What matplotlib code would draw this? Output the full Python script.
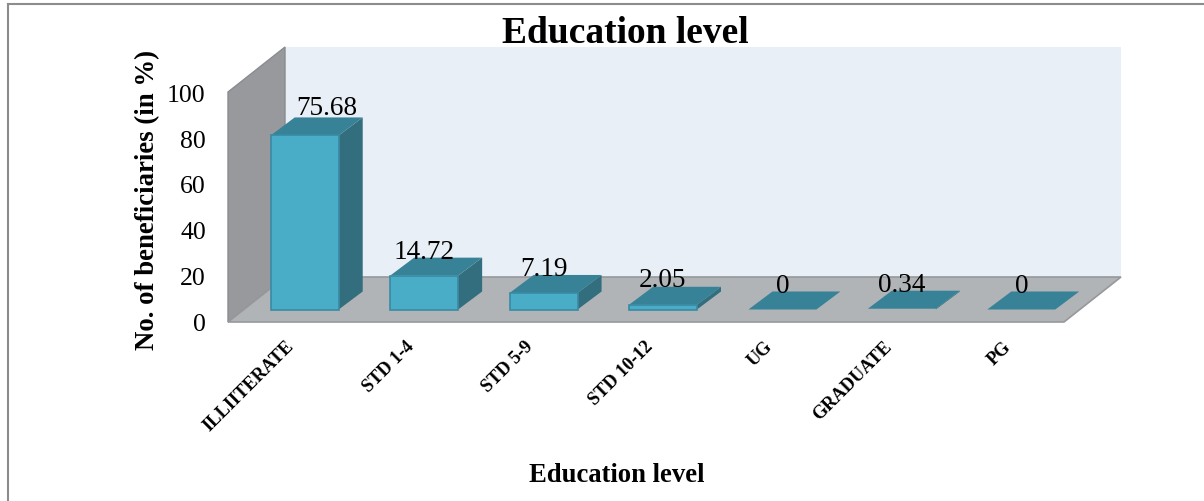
import matplotlib
matplotlib.use("Agg")
import matplotlib.pyplot as plt
from matplotlib.patches import Polygon, Rectangle
from matplotlib.transforms import ScaledTranslation

plt.rcParams['font.family'] = ['Liberation Serif', 'DejaVu Serif']

categories = ["ILLIITERATE", "STD 1-4", "STD 5-9", "STD 10-12", "UG", "GRADUATE", "PG"]
values = [75.68, 14.72, 7.19, 2.05, 0, 0.34, 0]
value_labels = ["75.68", "14.72", "7.19", "2.05", "0", "0.34", "0"]
y_ticks = [0, 20, 40, 60, 80, 100]

W, H = 1204, 502
fig = plt.figure(figsize=(W / 100, H / 100), dpi=100)

# front edge of the floor is the real axes, the 3d look is just skewed polygons
L, R, T, B = 228, 1064, 93, 323
ax = fig.add_axes([L / W, 1 - B / H, (R - L) / W, (B - T) / H])
ax.set_xlim(-0.5, 6.5)
ax.set_ylim(0, 100)
for s in ax.spines.values():
    s.set_visible(False)
ax.patch.set_visible(False)

sx = 7 / (R - L)   # data per pixel
sy = 100 / (B - T)
wall_dx, wall_dy = 57 * sx, 45 * sy
x0, x1 = -0.5, 6.5


def poly(pts, fc, ec="none", lw=0, z=1):
    ax.add_patch(Polygon(pts, closed=True, facecolor=fc, edgecolor=ec, linewidth=lw,
                         zorder=z, clip_on=False))


# walls and floor
poly([(x0 + wall_dx, wall_dy), (x1 + wall_dx, wall_dy), (x1 + wall_dx, 100 + wall_dy),
      (x0 + wall_dx, 100 + wall_dy)], "#e8eff6")
poly([(x0, 0), (x0, 100), (x0 + wall_dx, 100 + wall_dy), (x0 + wall_dx, wall_dy)], "#97999c", "#8a8c90", 1)
poly([(x0, 0), (x1, 0), (x1 + wall_dx, wall_dy), (x0 + wall_dx, wall_dy)], "#b0b4b7", "#96989b", 1.2)

# bars
bar_w = 68 * sx
off_x, off_y = 17 * sx, 12.5 * sy
dep_x, dep_y = 24 * sx, 18 * sy
for i, v in enumerate(values):
    xl = i - bar_w / 2 + off_x
    xr = xl + bar_w
    yb = off_y
    yt = off_y + v
    poly([(xr, yb), (xr + dep_x, yb + dep_y), (xr + dep_x, yt + dep_y), (xr, yt)], "#326e7e", z=3)
    poly([(xl, yt), (xr, yt), (xr + dep_x, yt + dep_y), (xl + dep_x, yt + dep_y)], "#388298", z=3)
    # flat bars show only their top in the original
    if v > 1:
        ax.add_patch(Rectangle((xl, yb), bar_w, v, facecolor="#4aadc8", edgecolor="#3a8aa3",
                               linewidth=1.2, zorder=4, clip_on=False))

# data labels, the first one was dragged sideways in the original
label_shift = [22, 0, 0, 0, 0, 0, 0]
label_rise = [28, 24, 24, 25, 24, 24, 24]
for i, v in enumerate(values):
    ax.annotate(value_labels[i], (i + off_x, off_y + v),
                xytext=(label_shift[i] * 0.72, label_rise[i] * 0.72), textcoords="offset points",
                ha="center", va="center", fontsize=19.6, color="black", zorder=6,
                annotation_clip=False)

ax.set_yticks(y_ticks)
ax.tick_params(axis="y", length=0, pad=16, labelsize=18.5)
ax.set_xticks(range(len(categories)))
ax.set_xticklabels(categories, rotation=45, ha="right", rotation_mode="anchor",
                   fontweight="bold", fontsize=13.2)
ax.tick_params(axis="x", length=0, pad=11)
for lab in ax.get_xticklabels():
    lab.set_transform(lab.get_transform() + ScaledTranslation(-2 / 100, 0, fig.dpi_scale_trans))

fig.text(625 / W, 1 - 34 / H, "Education level", ha="center", va="center", fontsize=27, fontweight="bold")
fig.text(617 / W, 1 - 476 / H, "Education level", ha="center", va="center", fontsize=19.2, fontweight="bold")
fig.text(148 / W, 1 - 200 / H, "No. of beneficiaries (in %)", rotation=90, ha="center", va="center",
         fontsize=19.3, fontweight="bold")

# frame of the pasted chart, only top and left show
fig.add_artist(plt.Line2D([8 / W, 8 / W], [0, 1 - 5 / H], color="#8c8c8c", lw=1.5))
fig.add_artist(plt.Line2D([8 / W, 1], [1 - 5 / H, 1 - 5 / H], color="#8c8c8c", lw=1.5))

fig.savefig("out.png", dpi=100)
